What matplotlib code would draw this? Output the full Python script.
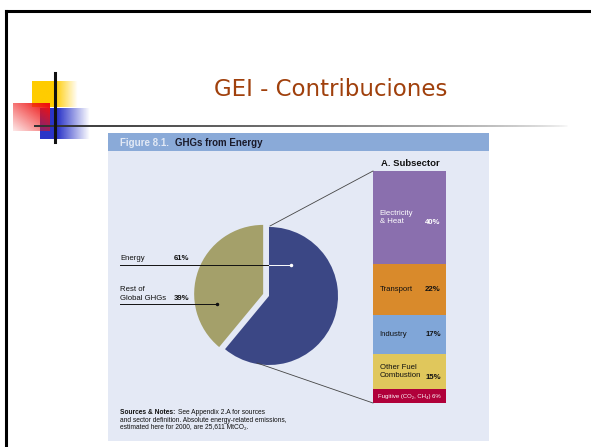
import numpy as np
import matplotlib
matplotlib.use("Agg")
from matplotlib import pyplot as plt
from matplotlib.patches import Rectangle

# chart data
pie_labels = ["Energy", "Rest of\nGlobal GHGs"]
pie_values = [61, 39]
pie_colors = ["#3b4785", "#a4a06a"]

sub_labels = ["Electricity\n& Heat", "Transport", "Industry", "Other Fuel\nCombustion", "Fugitive (CO\u2082, CH\u2084)"]
sub_values = [40, 22, 17, 15, 6]
sub_colors = ["#8a6fae", "#d98a2b", "#80a6d8", "#e0c75c", "#b0003a"]
sub_text_colors = ["white", "#111111", "#111111", "#111111", "white"]

W, H = 591, 447
FONT = ["Liberation Sans", "DejaVu Sans"]


def fig_box(x0, y0, x1, y1):
    # pixel box (top-left origin) -> figure fraction rect
    return [x0 / W, (H - y1) / H, (x1 - x0) / W, (y1 - y0) / H]


def fade_rect(ax, x0, x1, y0, y1, color, solid_frac, mode="h"):
    rgb = matplotlib.colors.to_rgb(color)
    nx, ny = 80, 40
    u = np.linspace(0, 1, nx)[None, :].repeat(ny, 0)
    v = np.linspace(0, 1, ny)[:, None].repeat(nx, 1)
    if mode == "h":
        a = np.where(u < solid_frac, 1.0, 1 - (u - solid_frac) / (1 - solid_frac))
    else:
        a = np.clip(0.1 + 0.95 * (u + (1 - v)) / 2, 0, 1)
    img = np.zeros((ny, nx, 4))
    img[..., :3] = rgb
    img[..., 3] = np.clip(a, 0, 1)
    ax.imshow(img, extent=(x0, x1, y1, y0), origin="upper", aspect="auto",
              interpolation="bilinear", zorder=2)


def after(ax, t, s, gap=3, **kw):
    # put text s just after text t
    return ax.annotate(s, xy=(1, 0.5), xycoords=t, xytext=(gap, 0),
                       textcoords="offset points", va="center", ha="left", **kw)


fig = plt.figure(figsize=(W / 100, H / 100), dpi=100)
fig.patch.set_facecolor("white")

# background / slide layer
bg = fig.add_axes([0, 0, 1, 1])
bg.set_axis_off()

# slide frame
bg.plot([6, W], [11, 11], color="black", lw=2.2, zorder=1)
bg.plot([6, 6], [11, H], color="black", lw=2.2, zorder=1)

# decoration
fade_rect(bg, 32, 78, 81, 107, "#ffcc00", 0.5)
fade_rect(bg, 40, 90, 108, 139, "#2b35c8", 0.35)
fade_rect(bg, 13, 50, 103, 131, "#ee1111", 0, mode="d")
strip = np.zeros((1, 200, 4))
strip[..., :3] = 0.2
strip[..., 3] = np.linspace(1, 0, 200) ** 0.6
bg.imshow(strip, extent=(34, 570, 127, 125), aspect="auto", zorder=3)
bg.plot([55, 55], [73, 142], color="#111111", lw=2.2, zorder=4)

bg.text(331, 90, "GEI - Contribuciones", color="#a0400c", fontsize=16.5,
        ha="center", va="center", family="DejaVu Sans")

# figure panel
bg.add_patch(Rectangle((108, 134), 381, 307, facecolor="#e4e9f5", edgecolor="none", zorder=1))
bg.add_patch(Rectangle((108, 133), 381, 18, facecolor="#8aaad8", edgecolor="none", zorder=1))
t_fig = bg.text(120, 142.5, "Figure 8.1.", color="#e2e9f5", fontsize=7, fontweight="bold",
                ha="left", va="center", family=FONT)
after(bg, t_fig, "GHGs from Energy", gap=4, color="#1a1a2a", fontsize=7,
      fontweight="bold", family=FONT)
bg.text(410, 163, "A. Subsector", color="#111111", fontsize=6.8, fontweight="bold",
        ha="center", va="center", family=FONT)

bg.set_xlim(0, W)
bg.set_ylim(H, 0)

# pie
R = 69
pax = fig.add_axes(fig_box(269 - 1.2 * R, 296 - 1.2 * R, 269 + 1.2 * R, 296 + 1.2 * R))
pax.pie(pie_values, colors=pie_colors, startangle=90, counterclock=False,
        explode=[0, 0.09], wedgeprops=dict(linewidth=0))
pax.set_xlim(-1.2, 1.2)
pax.set_ylim(-1.2, 1.2)
pax.set_aspect("equal")
pax.set_axis_off()

# stacked subsector bar
bax = fig.add_axes(fig_box(373, 171, 446, 403))
bottoms = np.concatenate([[0], np.cumsum(sub_values)[:-1]])
bax.bar(0, sub_values, bottom=bottoms, width=1, color=sub_colors, linewidth=0)
bax.set_xlim(-0.5, 0.5)
bax.set_ylim(sum(sub_values), 0)
bax.set_axis_off()
for lab, val, b, tc in zip(sub_labels, sub_values, bottoms, sub_text_colors):
    yc = b + val / 2
    if val < 10:
        bax.text(0, yc, f"{lab} {val}%", color=tc, fontsize=4.3, ha="center",
                 va="center", family=FONT)
    else:
        bax.text(-0.41, yc, lab, color=tc, fontsize=5.6, ha="left", va="center",
                 family=FONT, linespacing=1.3)
        yv = yc + (2.4 if "\n" in lab else 0)
        bax.text(0.43, yv, f"{val}%", color=tc, fontsize=5.6, ha="right",
                 va="center", family=FONT, fontweight="bold")

# overlay annotations
ov = fig.add_axes([0, 0, 1, 1])
ov.set_axis_off()
ov.patch.set_alpha(0)
ov.set_xlim(0, W)
ov.set_ylim(H, 0)

ov.plot([270, 373], [226, 171], color="#444444", lw=0.6)
ov.plot([257, 373], [363, 403], color="#444444", lw=0.6)

ov.text(120, 259, pie_labels[0], fontsize=5.6, family=FONT, color="#111111", va="center")
ov.text(174, 259, f"{pie_values[0]}%", fontsize=5.6, family=FONT, color="#111111",
        va="center", fontweight="bold")
ov.plot([120, 269], [265, 265], color="#111111", lw=0.7)
ov.plot([269, 291], [265, 265], color="white", lw=0.7)
ov.plot([291], [265], "o", color="white", ms=1.5)

ov.text(120, 294, pie_labels[1], fontsize=5.6, family=FONT, color="#111111",
        va="center", linespacing=1.45)
ov.text(174, 299, f"{pie_values[1]}%", fontsize=5.6, family=FONT, color="#111111",
        va="center", fontweight="bold")
ov.plot([120, 217], [304, 304], color="#111111", lw=0.7)
ov.plot([217], [304], "o", color="#111111", ms=1.5)

t_src = ov.text(120, 412, "Sources & Notes:", fontsize=4.8, family=FONT, fontweight="bold",
                color="#111111", va="center")
after(ov, t_src, "See Appendix 2.A for sources", gap=2, fontsize=4.8, family=FONT,
      color="#111111")
ov.text(120, 420, "and sector definition. Absolute energy-related emissions,",
        fontsize=4.8, family=FONT, color="#111111", va="center")
ov.text(120, 428, "estimated here for 2000, are 25,611 MtCO\u2082.",
        fontsize=4.8, family=FONT, color="#111111", va="center")

fig.savefig("out.png", dpi=100)
